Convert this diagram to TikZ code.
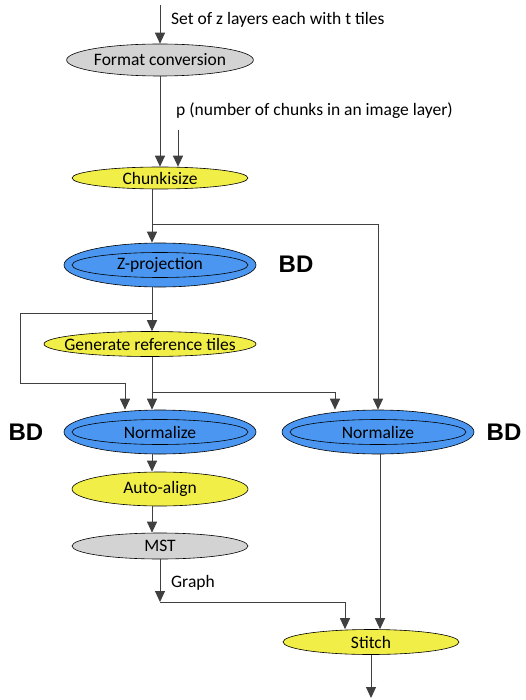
\documentclass[tikz,border=0pt]{standalone}
\usepackage{fontspec}
\setmainfont{Carlito}
\newfontfamily\bdfont{Liberation Sans}
\usetikzlibrary{shapes.geometric,arrows.meta}
\definecolor{stepgray}{HTML}{D3D3D3}
\definecolor{stepyellow}{HTML}{F2EE48}
\definecolor{stepblue}{HTML}{4A96F0}
\definecolor{linegray}{HTML}{404040}
\tikzset{
  stepnode/.style={ellipse, draw=black, line width=0.6pt, inner sep=0pt, font=\fontsize{17.5}{21}\selectfont},
  grayop/.style={stepnode, fill=stepgray, minimum width=176pt},
  yellowop/.style={stepnode, fill=stepyellow, minimum width=176pt},
  blueop/.style={stepnode, fill=stepblue, minimum width=192pt, minimum height=44pt},
  blueinner/.style={stepnode, fill=stepblue, minimum width=176pt, minimum height=25pt},
  bdlabel/.style={font=\bdfont\bfseries\fontsize{24}{28}\selectfont},
  note/.style={anchor=west, inner sep=0pt, font=\fontsize{17.5}{21}\selectfont},
  arr/.style={-{Triangle[length=11pt,width=10pt]}, linegray, line width=1pt}
}
\begin{document}
\begin{tikzpicture}[x=1pt,y=-1pt]
  \useasboundingbox (0,0) rectangle (525,700);

  % operations
  \node[grayop, minimum height=32pt] (fmt) at (160,60) {Format conversion};
  \node[yellowop, minimum height=22pt] (chunk) at (160,178) {Chunkisize};
  \node[blueop] (zproj) at (160,265) {};
  \node[blueinner] at (zproj) {Z-projection};
  \node[yellowop, minimum width=212pt, minimum height=25pt, inner xsep=-30pt] (gen) at (150,344) {Generate reference tiles};
  \node[blueop] (normL) at (160,432) {};
  \node[blueinner] at (normL) {Normalize};
  \node[blueop] (normR) at (378,432) {};
  \node[blueinner] at (normR) {Normalize};
  \node[yellowop, minimum height=34pt] (align) at (160,489) {Auto-align};
  \node[grayop, minimum height=26pt] (mst) at (160,546) {MST};
  \node[yellowop, minimum height=25pt] (stitch) at (371,642) {Stitch};

  \node[bdlabel] (bdZ) at (296,264) {BD};
  \node[bdlabel] (bdL) at (26,432) {BD};
  \node[bdlabel] (bdR) at (504,432) {BD};

  % inputs, outputs and branch points
  \coordinate (in) at (160,5);
  \coordinate (pin) at (178,130);
  \coordinate (s1) at (152,225);
  \coordinate (s2) at (152,313);
  \coordinate (lp) at (20,383);
  \coordinate (s3) at (152,392);
  \coordinate (g) at (160,602);
  \coordinate (out) at (371,698);

  \node[note] (inlabel) at (171,20) {Set of z layers each with t tiles};
  \node[note] (plabel) at (176,111) {p (number of chunks in an image layer)};
  \node[note] (glabel) at (171,583) {Graph};

  % connectors
  \draw[arr] (in) -- (fmt);
  \draw[arr] (fmt) -- (chunk);
  \draw[arr] (pin) -- (pin |- chunk.north);
  \draw[arr] (chunk.south -| s1) -- (zproj.north -| s1);
  \draw[arr] (s1) -| (normR.north);
  \draw[arr] (zproj.south -| s1) -- (gen.north -| s1);
  \draw[arr] (s2) -| (lp) -| ([xshift=-35pt]normL.north);
  \draw[arr] (gen.south -| s1) -- (normL.north -| s1);
  \draw[arr] (s3) -| ([xshift=-43pt]normR.north);
  \draw[arr] (normL.south -| s1) -- (align.north -| s1);
  \draw[arr] (align.south -| s1) -- (mst.north -| s1);
  \draw[arr] (mst) -- (g);
  \draw[arr] (g) -| ([xshift=-26pt]stitch.north);
  \draw[arr] ([xshift=2pt]normR.south) -- ([xshift=9pt]stitch.north);
  \draw[arr] (stitch) -- (out);
\end{tikzpicture}
\end{document}
